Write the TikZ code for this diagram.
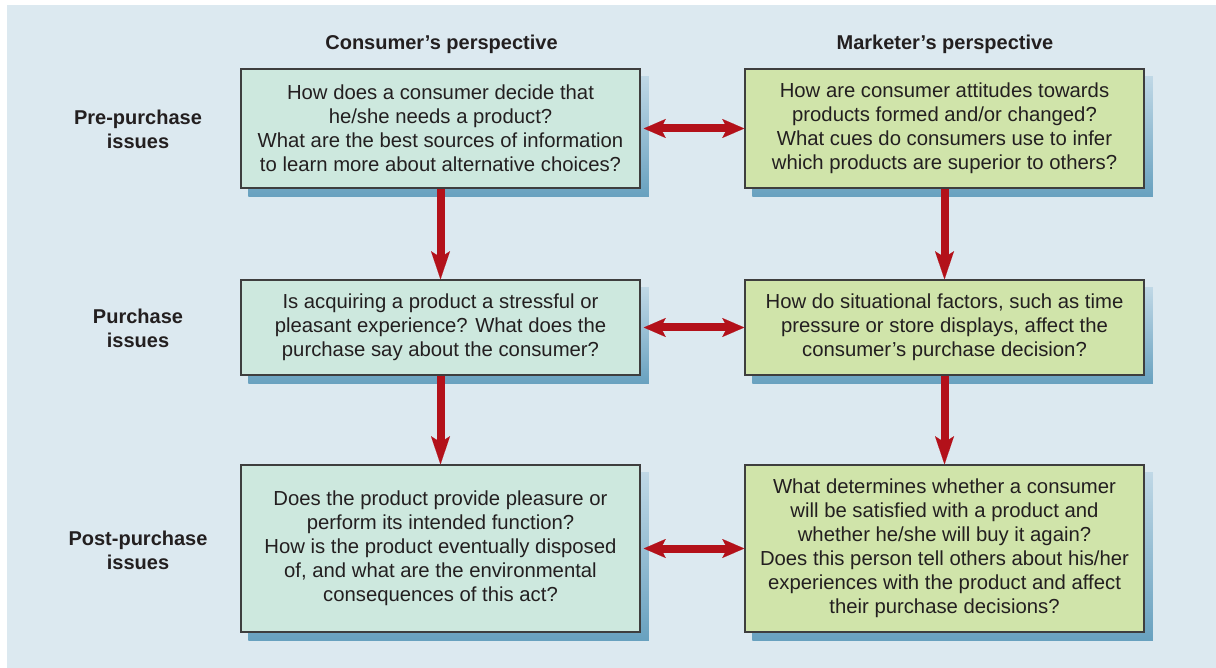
\documentclass[tikz,border=0pt]{standalone}
\usepackage{fontspec}
\setmainfont{Liberation Sans}
\usetikzlibrary{arrows.meta,backgrounds}
\definecolor{bgc}{HTML}{DCE9F0}
\definecolor{consc}{HTML}{CDE8DE}
\definecolor{markc}{HTML}{D0E4AA}
\definecolor{edgec}{HTML}{3E3E3E}
\definecolor{txtc}{HTML}{231F20}
\definecolor{arrc}{HTML}{B3111A}
\definecolor{shtop}{HTML}{C0D8E6}
\definecolor{shbot}{HTML}{68A1BF}
\tikzset{
  qbox/.style={draw=edgec, line width=1.5pt, minimum width=399pt, align=center,
    font=\fontsize{20.3}{24}\selectfont, text=txtc, inner sep=0pt},
  consbox/.style={qbox, fill=consc},
  markbox/.style={qbox, fill=markc},
  hdr/.style={font=\fontsize{20}{24}\selectfont\bfseries, text=txtc, align=center},
  boxshadow/.style={top color=shtop, bottom color=shbot},
  varrow/.style={draw=arrc, line width=8pt, -{Stealth[length=28pt, width=19pt, inset=6pt, line width=0.01pt]}},
  harrow/.style={draw=arrc, line width=8pt, {Stealth[length=22pt, width=19pt, inset=5pt, line width=0.01pt]}-{Stealth[length=22pt, width=19pt, inset=5pt, line width=0.01pt]}},
}
\begin{document}
\begin{tikzpicture}[x=1pt, y=-1pt]
\useasboundingbox (0,0) rectangle (1216,668);

\node[hdr] (hc) at (441.5,44.5) {Consumer’s perspective};
\node[hdr] (hm) at (945,44.5) {Marketer’s perspective};

\node[hdr] (r1) at (138,129.5) {Pre-purchase\\issues};
\node[hdr] (r2) at (138,328.5) {Purchase\\issues};
\node[hdr] (r3) at (138,550.5) {Post-purchase\\issues};

\node[consbox, minimum height=119pt] (L1) at (440.5,128.5)
  {How does a consumer decide that\\he/she needs a product?\\What are the best sources of information\\to learn more about alternative choices?};
\node[markbox, minimum height=119pt] (R1) at (944.5,128.5)
  {How are consumer attitudes towards\\products formed and/or changed?\\What cues do consumers use to infer\\which products are superior to others?};
\node[consbox, minimum height=95pt] (L2) at (440.5,327.5)
  {Is acquiring a product a stressful or\\pleasant experience? What does the\\purchase say about the consumer?};
\node[markbox, minimum height=95pt] (R2) at (944.5,327.5)
  {How do situational factors, such as time\\pressure or store displays, affect the\\consumer’s purchase decision?};
\node[consbox, minimum height=167pt] (L3) at (440.5,548.5)
  {Does the product provide pleasure or\\perform its intended function?\\How is the product eventually disposed\\of, and what are the environmental\\consequences of this act?};
\node[markbox, minimum height=167pt] (R3) at (944.5,548.5)
  {What determines whether a consumer\\will be satisfied with a product and\\whether he/she will buy it again?\\Does this person tell others about his/her\\experiences with the product and affect\\their purchase decisions?};

\begin{scope}[on background layer]
  \fill[bgc] (7,5) rectangle (1216,668);
  \foreach \b in {L1,R1,L2,R2,L3,R3}{
    \shade[boxshadow] ([xshift=8pt,yshift=-8pt]\b.north west) rectangle ([xshift=8pt,yshift=-8pt]\b.south east);
  }
\end{scope}

\draw[varrow] (L1.south) -- (L2.north);
\draw[varrow] (L2.south) -- (L3.north);
\draw[varrow] (R1.south) -- (R2.north);
\draw[varrow] (R2.south) -- (R3.north);
\draw[harrow] ([xshift=3pt]L1.east) -- (R1.west);
\draw[harrow] ([xshift=3pt]L2.east) -- (R2.west);
\draw[harrow] ([xshift=3pt]L3.east) -- (R3.west);
\end{tikzpicture}
\end{document}
